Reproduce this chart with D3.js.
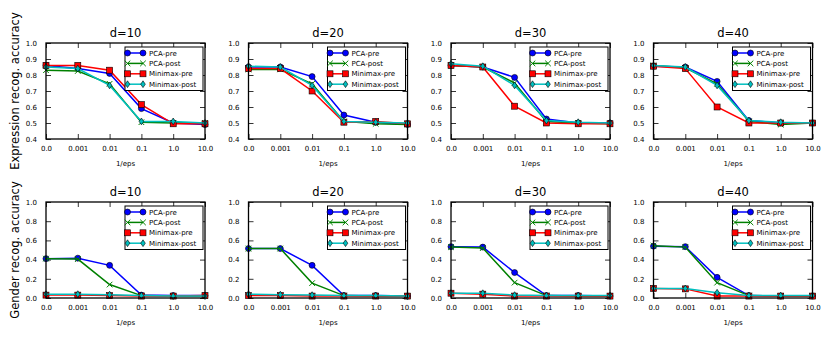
<!DOCTYPE html>
<html><head><meta charset="utf-8">
<script src="https://cdn.jsdelivr.net/npm/d3@7/dist/d3.min.js"></script>
<style>body{margin:0;background:#fff}svg text{font-family:"DejaVu Sans",sans-serif}</style>
</head><body><svg id="c" width="831" height="337"></svg>
<script>
const xLabels = ["0.0","0.001","0.01","0.1","1.0","10.0"];
const seriesNames = ["PCA-pre","PCA-post","Minimax-pre","Minimax-post"];
const panelTitles = ["d=10","d=20","d=30","d=40"];
const exprTicks = [0.4,0.5,0.6,0.7,0.8,0.9,1.0];
const genderTicks = [0.0,0.2,0.4,0.6,0.8,1.0];

// Expression recognition accuracy: one row per d (10,20,30,40)
const exprPcaPre = [
  [0.86,0.84,0.81,0.59,0.50,0.49],
  [0.85,0.85,0.79,0.55,0.505,0.49],
  [0.86,0.85,0.785,0.525,0.50,0.50],
  [0.855,0.85,0.76,0.515,0.50,0.50]];
const exprPcaPost = [
  [0.83,0.825,0.745,0.505,0.50,0.50],
  [0.835,0.835,0.745,0.51,0.495,0.49],
  [0.86,0.85,0.75,0.51,0.50,0.495],
  [0.86,0.845,0.745,0.51,0.49,0.50]];
const exprMinimaxPre = [
  [0.86,0.86,0.83,0.615,0.495,0.495],
  [0.84,0.84,0.70,0.505,0.51,0.495],
  [0.86,0.85,0.605,0.50,0.495,0.495],
  [0.855,0.84,0.60,0.50,0.50,0.50]];
const exprMinimaxPost = [
  [0.85,0.84,0.735,0.51,0.51,0.50],
  [0.855,0.85,0.735,0.51,0.505,0.50],
  [0.87,0.855,0.735,0.515,0.505,0.50],
  [0.86,0.85,0.735,0.515,0.505,0.50]];

// Gender recognition accuracy
const genderPcaPre = [
  [0.41,0.415,0.34,0.03,0.025,0.025],
  [0.515,0.515,0.34,0.025,0.025,0.02],
  [0.535,0.53,0.265,0.025,0.025,0.02],
  [0.54,0.535,0.215,0.025,0.02,0.02]];
const genderPcaPost = [
  [0.41,0.405,0.14,0.025,0.02,0.02],
  [0.515,0.515,0.155,0.025,0.02,0.02],
  [0.53,0.52,0.16,0.025,0.02,0.02],
  [0.545,0.53,0.16,0.025,0.02,0.02]];
const genderMinimaxPre = [
  [0.03,0.03,0.025,0.02,0.02,0.025],
  [0.025,0.025,0.02,0.02,0.02,0.02],
  [0.05,0.04,0.02,0.02,0.02,0.02],
  [0.10,0.095,0.02,0.02,0.02,0.02]];
const genderMinimaxPost = [
  [0.04,0.04,0.035,0.025,0.02,0.02],
  [0.04,0.035,0.03,0.025,0.025,0.02],
  [0.05,0.05,0.03,0.025,0.025,0.025],
  [0.10,0.10,0.055,0.025,0.025,0.025]];

const colors = ["#0000ff","#008000","#ff0000","#00bfbf"];
const markers = ["circle","x","square","diamond"];

const svg = d3.select("#c");
const lefts = [46, 248.5, 451, 653.5];
const pw = 159;
const rows = [
  {top:43, bottom:139, domain:[0.4,1.0], ticks:exprTicks, fmt:d3.format(".1f"),
   data:[exprPcaPre,exprPcaPost,exprMinimaxPre,exprMinimaxPost], ylabel:"Expression recog. accuracy"},
  {top:202, bottom:298, domain:[0.0,1.0], ticks:genderTicks, fmt:d3.format(".1f"),
   data:[genderPcaPre,genderPcaPost,genderMinimaxPre,genderMinimaxPost], ylabel:"Gender recog. accuracy"}
];

function drawMarker(g, type, x, y, color) {
  if (type === "circle") {
    g.append("circle").attr("cx",x).attr("cy",y).attr("r",3)
      .attr("fill",color).attr("stroke","#000").attr("stroke-width",0.6);
  } else if (type === "square") {
    g.append("rect").attr("x",x-3).attr("y",y-3).attr("width",6).attr("height",6)
      .attr("fill",color).attr("stroke","#000").attr("stroke-width",0.6);
  } else if (type === "diamond") {
    g.append("path").attr("d",`M${x},${y-3.4}L${x+2.3},${y}L${x},${y+3.4}L${x-2.3},${y}Z`)
      .attr("fill",color).attr("stroke","#000").attr("stroke-width",0.6);
  } else {
    g.append("path").attr("d",`M${x-2.8},${y-2.8}L${x+2.8},${y+2.8}M${x-2.8},${y+2.8}L${x+2.8},${y-2.8}`)
      .attr("stroke",color).attr("stroke-width",1).attr("fill","none");
  }
}

rows.forEach((row, ri) => {
  const y = d3.scaleLinear().domain(row.domain).range([row.bottom,row.top]);
  // y label
  svg.append("text").attr("transform",`translate(19,${(row.top+row.bottom)/2}) rotate(-90)`)
    .attr("text-anchor","middle").attr("font-size","11.5px").text(row.ylabel);
  lefts.forEach((left, pi) => {
    const x = d3.scalePoint().domain(d3.range(xLabels.length)).range([left,left+pw]);
    const g = svg.append("g");
    // axes
    const axB = d3.axisBottom(x).tickSizeInner(-5).tickSizeOuter(0).tickPadding(7)
      .tickFormat(i => xLabels[i]);
    const gb = g.append("g").attr("transform",`translate(0,${row.bottom})`).call(axB);
    const axT = d3.axisTop(x).tickSizeInner(-5).tickSizeOuter(0).tickFormat("");
    const gt = g.append("g").attr("transform",`translate(0,${row.top})`).call(axT);
    const axL = d3.axisLeft(y).tickValues(row.ticks).tickSizeInner(-5).tickSizeOuter(0)
      .tickPadding(9).tickFormat(row.fmt);
    const gl = g.append("g").attr("transform",`translate(${left},0)`).call(axL);
    const axR = d3.axisRight(y).tickValues(row.ticks).tickSizeInner(-5).tickSizeOuter(0).tickFormat("");
    const gr = g.append("g").attr("transform",`translate(${left+pw},0)`).call(axR);
    [gb,gt,gl,gr].forEach(a => {
      a.selectAll(".domain").remove();
      a.selectAll("line").attr("stroke","#000").attr("stroke-width",0.8);
      a.selectAll("text").attr("font-size","7px").attr("fill","#000")
        .attr("font-family","DejaVu Sans, sans-serif");
    });
    // series
    const line = d3.line().x((d,i)=>x(i)).y(d=>y(d));
    row.data.forEach((series, si) => {
      const vals = series[pi];
      g.append("path").attr("d",line(vals)).attr("fill","none")
        .attr("stroke",colors[si]).attr("stroke-width",1.5);
      const mg = g.append("g");
      vals.forEach((v,i) => drawMarker(mg, markers[si], x(i), y(v), colors[si]));
    });
    // frame
    g.append("rect").attr("x",left).attr("y",row.top).attr("width",pw)
      .attr("height",row.bottom-row.top).attr("fill","none")
      .attr("stroke","#000").attr("stroke-width",1.3);
    // title
    g.append("text").attr("x",left+pw/2).attr("y",row.top-6).attr("text-anchor","middle")
      .attr("font-size","11.5px").text(panelTitles[pi]);
    // x label
    g.append("text").attr("x",left+pw/2).attr("y",row.bottom+27).attr("text-anchor","middle")
      .attr("font-size","7px").text("1/eps");
    // legend
    const lx = left+pw-80, ly = row.top+4;
    const lg = g.append("g");
    lg.append("rect").attr("x",lx).attr("y",ly).attr("width",78).attr("height",43.5)
      .attr("fill","#fff").attr("stroke","#000").attr("stroke-width",1);
    seriesNames.forEach((name, si) => {
      const cy = ly + 6 + si*10.4;
      lg.append("line").attr("x1",lx+2.5).attr("x2",lx+18).attr("y1",cy).attr("y2",cy)
        .attr("stroke",colors[si]).attr("stroke-width",1.5);
      drawMarker(lg, markers[si], lx+2.5, cy, colors[si]);
      drawMarker(lg, markers[si], lx+18, cy, colors[si]);
      lg.append("text").attr("x",lx+24).attr("y",cy+2.5).attr("font-size","7px").text(name);
    });
  });
});
</script></body></html>
